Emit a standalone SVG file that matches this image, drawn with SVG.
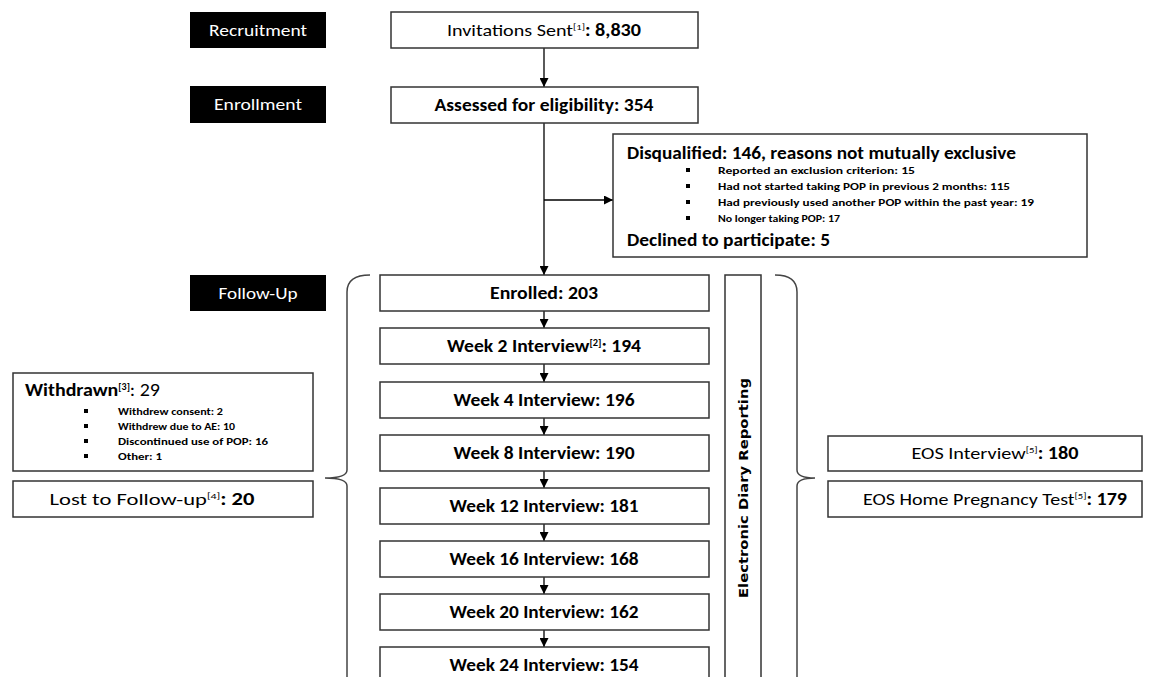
<svg xmlns="http://www.w3.org/2000/svg" width="1150" height="677" viewBox="0 0 1150 677">
<defs>
<marker id="ah" markerUnits="userSpaceOnUse" markerWidth="9" markerHeight="9" refX="9" refY="4.5" orient="auto">
<path d="M0,0 L9,4.5 L0,9 z" fill="#000"/>
</marker>
<style>
.box{fill:#fff;stroke:#333;stroke-width:1.5}
.lab{fill:#000}
.lt{font-family:Carlito,Lato,"Liberation Sans",sans-serif;font-size:17px;fill:#fff;text-anchor:middle}
.t{font-family:Carlito,Lato,"Liberation Sans",sans-serif;font-size:17px;font-weight:bold;fill:#000;text-anchor:middle}
.r{font-weight:normal}
.h{font-family:Carlito,Lato,"Liberation Sans",sans-serif;font-size:18px;font-weight:bold;fill:#000}
.b{font-family:Carlito,Lato,"Liberation Sans",sans-serif;font-size:10.5px;font-weight:bold;fill:#000}
.sup{font-size:9px}
.con{stroke:#000;stroke-width:1.3;fill:none}
.brace{stroke:#444;stroke-width:1.5;fill:none}
.ed{font-family:"DejaVu Sans",sans-serif;font-size:12px;font-weight:bold;fill:#000;text-anchor:middle}
</style>
</defs>
<rect width="1150" height="677" fill="#fff"/>

<g id="label-recruitment"><rect class="lab" x="190" y="12" width="136" height="36"/><text class="lt" x="258" y="36" textLength="98" lengthAdjust="spacingAndGlyphs">Recruitment</text></g>
<g id="label-enrollment"><rect class="lab" x="190" y="86" width="136" height="37"/><text class="lt" x="258" y="110" textLength="88" lengthAdjust="spacingAndGlyphs">Enrollment</text></g>
<g id="label-followup"><rect class="lab" x="190" y="275" width="136" height="36"/><text class="lt" x="258" y="299" textLength="79" lengthAdjust="spacingAndGlyphs">Follow-Up</text></g>

<g id="connectors">
<line class="con" x1="544" y1="48" x2="544" y2="87" marker-end="url(#ah)"/>
<line class="con" x1="544" y1="123" x2="544" y2="275" marker-end="url(#ah)"/>
<line class="con" x1="544" y1="200" x2="613" y2="200" marker-end="url(#ah)"/>
<line class="con" x1="544" y1="311" x2="544" y2="328" marker-end="url(#ah)"/>
<line class="con" x1="544" y1="364" x2="544" y2="382" marker-end="url(#ah)"/>
<line class="con" x1="544" y1="418" x2="544" y2="435" marker-end="url(#ah)"/>
<line class="con" x1="544" y1="471" x2="544" y2="488" marker-end="url(#ah)"/>
<line class="con" x1="544" y1="524" x2="544" y2="541" marker-end="url(#ah)"/>
<line class="con" x1="544" y1="577" x2="544" y2="594" marker-end="url(#ah)"/>
<line class="con" x1="544" y1="630" x2="544" y2="647" marker-end="url(#ah)"/>
<path class="brace" d="M370,275 Q347,275 347,292 L347,470 Q347,478 325,478 Q347,478 347,486 L347,690"/>
<path class="brace" d="M775,275 Q797,275 797,292 L797,470 Q797,478 815,478 Q797,478 797,486 L797,690"/>
</g>

<g id="invitations"><rect class="box" x="391" y="12" width="307" height="36"/>
<text class="t" x="544" y="36" textLength="194" lengthAdjust="spacingAndGlyphs"><tspan class="r">Invitations Sent</tspan><tspan class="sup r" dy="-6">[1]</tspan><tspan dy="6">:  8,830</tspan></text></g>
<g id="assessed"><rect class="box" x="391" y="87" width="307" height="36"/><text class="t" x="544" y="111" textLength="219" lengthAdjust="spacingAndGlyphs">Assessed for eligibility:  354</text></g>

<g id="disqualified"><rect class="box" x="613" y="134" width="474" height="123"/>
<text class="h" x="627" y="159" textLength="389" lengthAdjust="spacingAndGlyphs">Disqualified:  146, reasons not mutually exclusive</text>
<rect x="686" y="168" width="4" height="4"/><text class="b" x="718" y="174" textLength="197" lengthAdjust="spacingAndGlyphs">Reported an exclusion criterion: 15</text>
<rect x="686" y="184" width="4" height="4"/><text class="b" x="718" y="190" textLength="292" lengthAdjust="spacingAndGlyphs">Had not started taking POP in previous 2 months: 115</text>
<rect x="686" y="200" width="4" height="4"/><text class="b" x="718" y="206" textLength="316" lengthAdjust="spacingAndGlyphs">Had previously used another POP within the past year: 19</text>
<rect x="686" y="216" width="4" height="4"/><text class="b" x="718" y="222" textLength="122" lengthAdjust="spacingAndGlyphs">No longer taking POP: 17</text>
<text class="h" x="627" y="246" textLength="203" lengthAdjust="spacingAndGlyphs">Declined to participate:  5</text>
</g>

<g id="enrolled"><rect class="box" x="380" y="275" width="329" height="36"/><text class="t" x="544" y="299" textLength="108" lengthAdjust="spacingAndGlyphs">Enrolled:  203</text></g>
<g id="week2"><rect class="box" x="380" y="328" width="329" height="36"/><text class="t" x="544" y="352" textLength="194" lengthAdjust="spacingAndGlyphs">Week 2 Interview<tspan class="sup" dy="-6">[2]</tspan><tspan dy="6">:  194</tspan></text></g>
<g id="week4"><rect class="box" x="380" y="382" width="329" height="36"/><text class="t" x="544" y="406" textLength="181" lengthAdjust="spacingAndGlyphs">Week 4 Interview:  196</text></g>
<g id="week8"><rect class="box" x="380" y="435" width="329" height="36"/><text class="t" x="544" y="459" textLength="181" lengthAdjust="spacingAndGlyphs">Week 8 Interview:  190</text></g>
<g id="week12"><rect class="box" x="380" y="488" width="329" height="36"/><text class="t" x="544" y="512" textLength="189" lengthAdjust="spacingAndGlyphs">Week 12 Interview:  181</text></g>
<g id="week16"><rect class="box" x="380" y="541" width="329" height="36"/><text class="t" x="544" y="565" textLength="189" lengthAdjust="spacingAndGlyphs">Week 16 Interview:  168</text></g>
<g id="week20"><rect class="box" x="380" y="594" width="329" height="36"/><text class="t" x="544" y="618" textLength="189" lengthAdjust="spacingAndGlyphs">Week 20 Interview:  162</text></g>
<g id="week24"><rect class="box" x="380" y="647" width="329" height="36"/><text class="t" x="544" y="671" textLength="189" lengthAdjust="spacingAndGlyphs">Week 24 Interview:  154</text></g>

<g id="diary"><rect class="box" x="725" y="275" width="36" height="420"/>
<text class="ed" transform="translate(748,488) rotate(-90)" textLength="220" lengthAdjust="spacingAndGlyphs">Electronic Diary Reporting</text></g>

<g id="withdrawn"><rect class="box" x="13" y="373" width="300" height="98"/>
<text class="h" x="25" y="396" textLength="135" lengthAdjust="spacingAndGlyphs">Withdrawn<tspan class="sup" dy="-6">[3]</tspan><tspan dy="6" font-weight="normal">:  29</tspan></text>
<rect x="84" y="409" width="4" height="4"/><text class="b" x="118" y="415" textLength="105" lengthAdjust="spacingAndGlyphs">Withdrew consent: 2</text>
<rect x="84" y="424" width="4" height="4"/><text class="b" x="118" y="430" textLength="117" lengthAdjust="spacingAndGlyphs">Withdrew due to AE: 10</text>
<rect x="84" y="439" width="4" height="4"/><text class="b" x="118" y="445" textLength="150" lengthAdjust="spacingAndGlyphs">Discontinued use of POP: 16</text>
<rect x="84" y="454" width="4" height="4"/><text class="b" x="118" y="460" textLength="44" lengthAdjust="spacingAndGlyphs">Other: 1</text>
</g>
<g id="lost"><rect class="box" x="13" y="481" width="300" height="36"/>
<text class="t" x="152" y="505" textLength="205" lengthAdjust="spacingAndGlyphs"><tspan class="r">Lost to Follow-up</tspan><tspan class="sup r" dy="-6">[4]</tspan><tspan dy="6">:  20</tspan></text></g>

<g id="eos-interview"><rect class="box" x="828" y="436" width="314" height="35"/>
<text class="t" x="995" y="459" textLength="167" lengthAdjust="spacingAndGlyphs"><tspan class="r">EOS Interview</tspan><tspan class="sup r" dy="-6">[5]</tspan><tspan dy="6">:  180</tspan></text></g>
<g id="eos-test"><rect class="box" x="828" y="481" width="314" height="36"/>
<text class="t" x="995" y="505" textLength="264" lengthAdjust="spacingAndGlyphs"><tspan class="r">EOS Home Pregnancy Test</tspan><tspan class="sup r" dy="-6">[5]</tspan><tspan dy="6">:  179</tspan></text></g>
</svg>
